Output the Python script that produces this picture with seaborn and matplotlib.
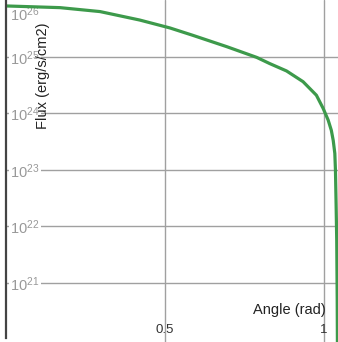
import numpy as np
import pandas as pd
import matplotlib
matplotlib.use("Agg")
import matplotlib.pyplot as plt
import seaborn as sns

# 角度 (rad) とフラックス (erg/s/cm2) : 画像から読み取った値
angle = [0.000, 0.170, 0.296, 0.421, 0.516, 0.588, 0.695, 0.789, 0.830, 0.883,
         0.935, 0.977, 0.998, 1.014, 1.024, 1.030, 1.035, 1.037, 1.039, 1.041,
         1.0425, 1.0435]
flux = [7.94e25, 7.41e25, 6.31e25, 4.47e25, 3.24e25, 2.40e25, 1.51e25, 9.77e24,
        7.59e24, 5.62e24, 3.63e24, 2.09e24, 1.23e24, 7.6e23, 5.0e23, 3.3e23,
        1.95e23, 9.8e22, 2.5e22, 5.6e21, 4.9e20, 3.2e19]

x_ticks = [0.5, 1.0]
x_tick_labels = ["0.5", "1"]
y_ticks = [1e21, 1e22, 1e23, 1e24, 1e25]
y_tick_labels = ["$10^{21}$", "$10^{22}$", "$10^{23}$", "$10^{24}$", "$10^{25}$"]
y_top_label = "$10^{26}$"

df = pd.DataFrame({"Angle": angle, "Flux": flux})

sns.set_style("white")
plt.rcParams["font.family"] = ["Liberation Sans", "DejaVu Sans"]
plt.rcParams["mathtext.fontset"] = "custom"
plt.rcParams["mathtext.rm"] = "Liberation Sans"
plt.rcParams["mathtext.it"] = "Liberation Sans"

fig = plt.figure(figsize=(3.38, 3.42), dpi=100)
ax = fig.add_axes([6 / 338, 0, 332 / 338, 1])

sns.lineplot(data=df, x="Angle", y="Flux", color="#3d9a4b", linewidth=2.3, ax=ax)

ax.set_yscale("log")
ax.set_xlim(0, 1.045)
ax.set_ylim(10 ** 19.954, 10 ** 26.005)

ax.set_xticks(x_ticks)
ax.set_xticklabels(x_tick_labels)
ax.set_yticks(y_ticks)
ax.set_yticklabels(y_tick_labels)
ax.yaxis.set_minor_locator(matplotlib.ticker.NullLocator())

ax.grid(True, color="#a0a0a0", linewidth=1.0)
ax.tick_params(axis="y", direction="in", length=3, width=1, color="#999999",
               labelcolor="#999999", labelsize=10.5, pad=-3)
for lbl in ax.get_yticklabels():
    lbl.set_horizontalalignment("left")
    lbl.set_bbox(dict(facecolor="white", edgecolor="none", pad=1))
ax.tick_params(axis="x", direction="in", length=0, labelcolor="#333333",
               labelsize=9.5, pad=-13)

# 上端の 10^26 ラベル
ax.text(4 / 332, 0.985, y_top_label, transform=ax.transAxes, color="#999999",
        fontsize=10.5, ha="left", va="top", zorder=1,
        bbox=dict(facecolor="white", edgecolor="none", pad=1))

for s in ["top", "right", "bottom"]:
    ax.spines[s].set_visible(False)
ax.spines["left"].set_color("#444444")
ax.spines["left"].set_linewidth(1.6)
ax.spines["left"].set_bounds(10 ** 20.03, 10 ** 26.005)

ax.set_xlabel("")
ax.set_ylabel("")
fig.text(43 / 338, 1 - 76 / 342, "Flux (erg/s/cm2)", rotation=90, ha="center",
         va="center", fontsize=10.5, color="#222222")
fig.text(326 / 338, 1 - 310 / 342, "Angle (rad)", ha="right", va="center",
         fontsize=10.5, color="#222222")

plt.savefig("out.png", dpi=100)
